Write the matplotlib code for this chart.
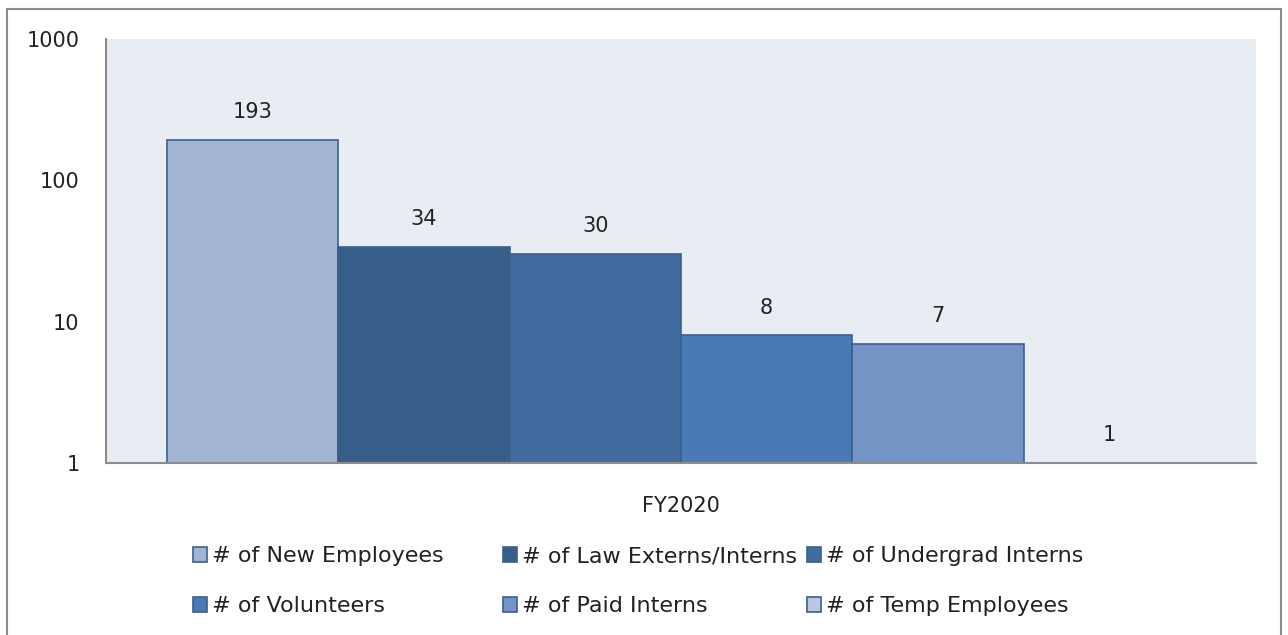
import matplotlib.pyplot as plt
import matplotlib.patches as mpatches

# Données
categorie = "FY2020"
series = ["# of New Employees", "# of Law Externs/Interns", "# of Undergrad Interns",
          "# of Volunteers", "# of Paid Interns", "# of Temp Employees"]
valeurs = [193, 34, 30, 8, 7, 1]
couleurs = ["#A2B4D4", "#375D8A", "#426C9F", "#4A7AB5", "#7494C5", "#B9C9E2"]
yticks = [1, 10, 100, 1000]

plt.rcParams['font.family'] = ['DejaVu Sans']
fs = 15
fs_leg = 16

fig = plt.figure(figsize=(12.88, 6.35), dpi=100)
ax = fig.add_axes([106 / 1288, 1 - 463 / 635, 1150 / 1288, 424 / 635])
ax.set_facecolor("#E8ECF3")

n = len(valeurs)
positions = [i - (n - 1) / 2 for i in range(n)]
barres = []
for pos, v, c, nom in zip(positions, valeurs, couleurs, series):
    b = ax.bar(pos, v, width=1.0, color=c, edgecolor="#3C5F8F", linewidth=1.2, label=nom)
    barres.append(b)
    ax.annotate(str(v), (pos, v), xytext=(0, 20), textcoords="offset points",
                ha="center", va="center", fontsize=fs, color="#222222")

ax.set_yscale("log")
ax.set_ylim(1, 1000)
ax.set_xlim(-3.357, 3.357)
ax.set_yticks(yticks)
ax.set_yticklabels([str(t) for t in yticks])
ax.minorticks_off()
ax.tick_params(axis="y", length=0, pad=19, labelsize=fs, labelcolor="#222222")
ax.set_xticks([0])
ax.set_xticklabels([categorie])
ax.tick_params(axis="x", length=0, pad=24, labelsize=fs, labelcolor="#222222")

for s in ["top", "right"]:
    ax.spines[s].set_visible(False)
for s in ["left", "bottom"]:
    ax.spines[s].set_color("#8C8C8C")
    ax.spines[s].set_linewidth(1.5)

# Légende : une entrée par emplacement (3 colonnes, 2 lignes)
col_x = [193, 503, 807]
ligne_y = [556, 606]
for i, (b, nom) in enumerate(zip(barres, series)):
    x = col_x[i % 3] / 1288
    y = 1 - ligne_y[i // 3] / 635
    fig.legend([b], [nom], loc="center left", bbox_to_anchor=(x, y),
               frameon=False, fontsize=fs_leg, handlelength=0.65, handleheight=0.65,
               handletextpad=0.2, borderpad=0, borderaxespad=0, labelcolor="#222222")

# Cadre extérieur
fig.patches.append(mpatches.Rectangle((7 / 1288, -0.05), 1274 / 1288, 1.05 - 9 / 635,
                                      transform=fig.transFigure, fill=False,
                                      edgecolor="#8C8C8C", linewidth=1.5))

plt.savefig("out.png", dpi=100)
